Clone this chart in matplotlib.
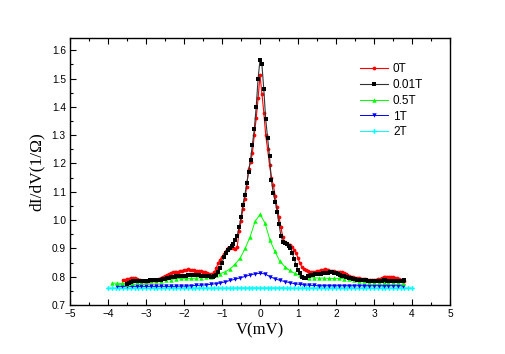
import numpy as np
import matplotlib
matplotlib.use("Agg")
import matplotlib.pyplot as plt
from matplotlib.ticker import MultipleLocator, FormatStrFormatter

# ---------------- data ----------------
x_0T = np.round(np.arange(-3.60, 3.8001, 0.05), 3)
y_0T = [0.788, 0.789, 0.791, 0.793, 0.795, 0.796, 0.795, 0.793, 0.790, 0.788,
        0.786, 0.785, 0.785, 0.786, 0.787, 0.787, 0.788, 0.788, 0.790, 0.791,
        0.794, 0.798, 0.802, 0.806, 0.810, 0.813, 0.815, 0.816, 0.817, 0.818,
        0.819, 0.820, 0.822, 0.824, 0.826, 0.825, 0.824, 0.822, 0.820, 0.820,
        0.821, 0.820, 0.818, 0.816, 0.813, 0.810, 0.808, 0.808, 0.815, 0.832,
        0.848, 0.860, 0.870, 0.880, 0.892, 0.900, 0.903, 0.906, 0.903, 0.899,
        0.905, 0.960, 0.995, 1.040, 1.075, 1.118, 1.180, 1.205, 1.236, 1.300,
        1.360, 1.430, 1.513, 1.445, 1.380, 1.300, 1.250, 1.195, 1.150, 1.125,
        1.085, 1.045, 1.010, 0.975, 0.940, 0.922, 0.915, 0.912, 0.912, 0.905,
        0.895, 0.885, 0.865, 0.848, 0.835, 0.828, 0.822, 0.819, 0.818, 0.818,
        0.818, 0.818, 0.819, 0.821, 0.823, 0.825, 0.826, 0.825, 0.823, 0.821,
        0.820, 0.819, 0.818, 0.817, 0.816, 0.815, 0.812, 0.808, 0.805, 0.802,
        0.800, 0.798, 0.796, 0.795, 0.794, 0.793, 0.792, 0.791, 0.790, 0.789,
        0.788, 0.788, 0.789, 0.790, 0.791, 0.793, 0.795, 0.798, 0.800, 0.800,
        0.800, 0.799, 0.798, 0.797, 0.795, 0.792, 0.789, 0.787, 0.786]

x_001T = np.round(np.arange(-3.50, 3.8001, 0.05), 3)
y_001T = [0.774, 0.778, 0.782, 0.784, 0.785, 0.785, 0.785, 0.786, 0.786, 0.785,
          0.786, 0.786, 0.787, 0.787, 0.788, 0.788, 0.788, 0.789, 0.790, 0.791,
          0.793, 0.795, 0.796, 0.798, 0.799, 0.800, 0.801, 0.802, 0.802, 0.803,
          0.803, 0.804, 0.805, 0.805, 0.806, 0.806, 0.806, 0.805, 0.805, 0.804,
          0.803, 0.803, 0.802, 0.801, 0.800, 0.800, 0.802, 0.806, 0.815, 0.830,
          0.850, 0.868, 0.885, 0.896, 0.903, 0.907, 0.915, 0.930, 0.945, 0.975,
          1.010, 1.055, 1.088, 1.130, 1.170, 1.212, 1.265, 1.321, 1.400, 1.500,
          1.566, 1.550, 1.462, 1.356, 1.290, 1.225, 1.140, 1.095, 1.065, 1.030,
          0.985, 0.945, 0.924, 0.919, 0.915, 0.910, 0.903, 0.885, 0.862, 0.842,
          0.824, 0.812, 0.800, 0.794, 0.797, 0.802, 0.804, 0.806, 0.807, 0.808,
          0.809, 0.810, 0.811, 0.812, 0.812, 0.813, 0.814, 0.815, 0.815, 0.814,
          0.812, 0.809, 0.806, 0.804, 0.802, 0.800, 0.798, 0.796, 0.794, 0.793,
          0.791, 0.790, 0.789, 0.788, 0.788, 0.787, 0.787, 0.786, 0.786, 0.785,
          0.785, 0.785, 0.786, 0.786, 0.786, 0.787, 0.787, 0.786, 0.786, 0.786,
          0.786, 0.785, 0.785, 0.785, 0.785, 0.786, 0.788]

x_05T = np.round(np.arange(-3.90, 3.7801, 0.13), 3)
y_05T = [0.777, 0.777, 0.776, 0.775, 0.776, 0.780, 0.782, 0.783, 0.784, 0.785,
         0.786, 0.788, 0.790, 0.793, 0.794, 0.794, 0.794, 0.795, 0.796, 0.798,
         0.800, 0.805, 0.811, 0.818, 0.828, 0.845, 0.866, 0.900, 0.941, 0.995,
         1.020, 0.990, 0.930, 0.890, 0.855, 0.836, 0.822, 0.812, 0.805, 0.799,
         0.797, 0.796, 0.795, 0.795, 0.794, 0.794, 0.794, 0.793, 0.791, 0.788,
         0.785, 0.784, 0.783, 0.782, 0.782, 0.782, 0.782, 0.781, 0.780, 0.778]

x_1T = np.round(np.arange(-3.77, 3.7801, 0.13), 3)
y_1T = [0.766, 0.766, 0.766, 0.766, 0.766, 0.766, 0.766, 0.766, 0.766, 0.766,
        0.766, 0.766, 0.766, 0.767, 0.767, 0.768, 0.769, 0.770, 0.771, 0.773,
        0.775, 0.778, 0.782, 0.787, 0.791, 0.796, 0.801, 0.806, 0.810, 0.812,
        0.810, 0.800, 0.793, 0.787, 0.783, 0.779, 0.775, 0.773, 0.771, 0.770,
        0.769, 0.768, 0.768, 0.768, 0.768, 0.768, 0.768, 0.768, 0.768, 0.768,
        0.768, 0.768, 0.768, 0.768, 0.768, 0.768, 0.768, 0.768, 0.768]

x_2T = np.round(np.arange(-4.0, 4.0001, 0.1), 3)
y_2T = [0.760, 0.760, 0.760, 0.760, 0.760, 0.760, 0.760, 0.760, 0.760, 0.760,
        0.760, 0.760, 0.760, 0.760, 0.760, 0.760, 0.760, 0.760, 0.760, 0.760,
        0.760, 0.760, 0.760, 0.760, 0.760, 0.760, 0.760, 0.760, 0.760, 0.760,
        0.760, 0.760, 0.760, 0.760, 0.761, 0.761, 0.761, 0.761, 0.761, 0.761,
        0.761, 0.761, 0.761, 0.761, 0.761, 0.761, 0.761, 0.760, 0.760, 0.760,
        0.760, 0.760, 0.760, 0.760, 0.760, 0.760, 0.760, 0.760, 0.760, 0.760,
        0.760, 0.760, 0.760, 0.760, 0.760, 0.760, 0.760, 0.760, 0.760, 0.760,
        0.760, 0.760, 0.760, 0.760, 0.760, 0.760, 0.760, 0.760, 0.760, 0.760,
        0.760]

labels = ["0T", "0.01T", "0.5T", "1T", "2T"]
x_ticks = [-5, -4, -3, -2, -1, 0, 1, 2, 3, 4, 5]
y_ticks = [0.7, 0.8, 0.9, 1.0, 1.1, 1.2, 1.3, 1.4, 1.5, 1.6]

# ---------------- figure ----------------
plt.rcParams['font.family'] = ['Liberation Sans', 'DejaVu Sans']
fig = plt.figure(figsize=(5.06, 3.54), dpi=100)
ax = fig.add_axes([70/506, 1-305/354, 380/506, 267.5/354])

ax.plot(x_0T, y_0T, color='red', lw=0.8, marker='o', ms=2.7, mew=0,
        label=labels[0], zorder=4)
ax.plot(x_001T, y_001T, color='#333333', lw=0.8, marker='s', ms=2.6,
        mfc='black', mec='black', mew=0, label=labels[1], zorder=5)
ax.plot(x_05T, y_05T, color='#00ff00', lw=0.7, marker='^', ms=3.2, mew=0,
        label=labels[2], zorder=3)
ax.plot(x_1T, y_1T, color='#0000ff', lw=0.7, marker='v', ms=3.2, mew=0,
        label=labels[3], zorder=2)
ax.plot(x_2T, y_2T, color='#00ffff', lw=0.7, marker='P', ms=3.4, mew=0,
        label=labels[4], zorder=1)

ax.set_xlim(-5, 5)
ax.set_ylim(0.7, 1.645)
ax.set_xticks(x_ticks)
ax.set_yticks(y_ticks)
ax.yaxis.set_major_formatter(FormatStrFormatter('%.1f'))
ax.xaxis.set_minor_locator(MultipleLocator(0.5))
ax.yaxis.set_minor_locator(MultipleLocator(0.05))
ax.tick_params(which='both', direction='in', top=True, right=False,
               labelsize=7.3, pad=3, width=0.8)
ax.tick_params(which='major', length=4)
ax.tick_params(which='minor', length=2)
for s in ax.spines.values():
    s.set_linewidth(1.0)

ax.set_xlabel('V(mV)', family=['Liberation Serif'], fontsize=12, labelpad=2)
ax.set_ylabel('dI/dV(1/Ω)', family=['Liberation Serif', 'DejaVu Serif'],
              fontsize=12.5, labelpad=5)

leg = ax.legend(loc='upper left', bbox_to_anchor=(0.763, 0.905), frameon=False,
                fontsize=8.5, handlelength=2.4, handletextpad=0.4,
                labelspacing=0.33, borderaxespad=0, borderpad=0)

fig.savefig('out.png', dpi=100)
